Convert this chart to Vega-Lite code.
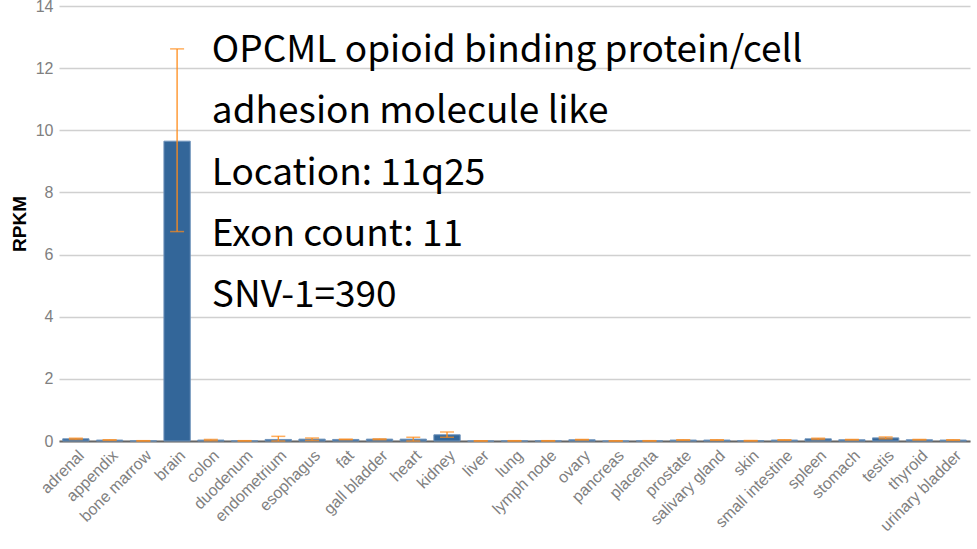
{
  "$schema": "https://vega.github.io/schema/vega-lite/v6.json",
  "width": 911,
  "height": 435,
  "autosize": {"type": "none"},
  "padding": {"left": 59, "top": 6, "right": 7, "bottom": 108},
  "background": "white",
  "config": {
    "view": {"stroke": null},
    "font": "Liberation Sans",
    "axisX": {
      "labelAngle": -45, "labelFontSize": 16, "labelColor": "#808080",
      "ticks": false, "domainColor": "#666666", "domainWidth": 2, "labelPadding": 6, "grid": false
    },
    "axisY": {
      "titleFontSize": 19, "titleFontWeight": "bold", "titleColor": "#000000", "titlePadding": 6,
      "labelFontSize": 16, "labelColor": "#808080", "labelPadding": 6,
      "ticks": false, "domain": false, "gridWidth": 1.5, "gridColor": "#d0d0d0"
    },
    "axisLeft": {
      "titleFontSize": 19, "titleFontWeight": "bold", "titleColor": "#000000", "titlePadding": 6,
      "labelFontSize": 16, "labelColor": "#808080", "labelPadding": 6,
      "ticks": false, "domain": false, "gridWidth": 1.5, "gridColor": "#d0d0d0"
    },
    "axisQuantitative": {
      "titleFontSize": 19, "labelFontSize": 16
    }
  },
  "datasets": {
    "expr": [
      {"tissue": "adrenal", "rpkm": 0.07, "lo": 0.05, "hi": 0.09},
      {"tissue": "appendix", "rpkm": 0.03, "lo": 0.02, "hi": 0.04},
      {"tissue": "bone marrow", "rpkm": 0.005, "lo": 0.0, "hi": 0.01},
      {"tissue": "brain", "rpkm": 9.65, "lo": 6.74, "hi": 12.62},
      {"tissue": "colon", "rpkm": 0.03, "lo": 0.01, "hi": 0.05},
      {"tissue": "duodenum", "rpkm": 0.005, "lo": 0.0, "hi": 0.01},
      {"tissue": "endometrium", "rpkm": 0.05, "lo": 0.0, "hi": 0.15},
      {"tissue": "esophagus", "rpkm": 0.06, "lo": 0.02, "hi": 0.1},
      {"tissue": "fat", "rpkm": 0.05, "lo": 0.04, "hi": 0.06},
      {"tissue": "gall bladder", "rpkm": 0.06, "lo": 0.04, "hi": 0.07},
      {"tissue": "heart", "rpkm": 0.06, "lo": 0.0, "hi": 0.12},
      {"tissue": "kidney", "rpkm": 0.2, "lo": 0.12, "hi": 0.29},
      {"tissue": "liver", "rpkm": 0.0, "lo": 0.0, "hi": 0.005},
      {"tissue": "lung", "rpkm": 0.005, "lo": 0.0, "hi": 0.01},
      {"tissue": "lymph node", "rpkm": 0.005, "lo": 0.0, "hi": 0.01},
      {"tissue": "ovary", "rpkm": 0.04, "lo": 0.03, "hi": 0.05},
      {"tissue": "pancreas", "rpkm": 0.0, "lo": 0.0, "hi": 0.005},
      {"tissue": "placenta", "rpkm": 0.005, "lo": 0.0, "hi": 0.01},
      {"tissue": "prostate", "rpkm": 0.03, "lo": 0.02, "hi": 0.04},
      {"tissue": "salivary gland", "rpkm": 0.03, "lo": 0.02, "hi": 0.04},
      {"tissue": "skin", "rpkm": 0.01, "lo": 0.0, "hi": 0.015},
      {"tissue": "small intestine", "rpkm": 0.03, "lo": 0.02, "hi": 0.04},
      {"tissue": "spleen", "rpkm": 0.07, "lo": 0.05, "hi": 0.09},
      {"tissue": "stomach", "rpkm": 0.04, "lo": 0.03, "hi": 0.05},
      {"tissue": "testis", "rpkm": 0.1, "lo": 0.07, "hi": 0.13},
      {"tissue": "thyroid", "rpkm": 0.04, "lo": 0.03, "hi": 0.05},
      {"tissue": "urinary bladder", "rpkm": 0.03, "lo": 0.02, "hi": 0.04}
    ],
    "notes": [
      {"tissue": "colon", "y": 12.2, "line": "OPCML opioid binding protein/cell"},
      {"tissue": "colon", "y": 10.22, "line": "adhesion molecule like"},
      {"tissue": "colon", "y": 8.24, "line": "Location: 11q25"},
      {"tissue": "colon", "y": 6.27, "line": "Exon count: 11"},
      {"tissue": "colon", "y": 4.3, "line": "SNV-1=390"}
    ]
  },
  "encoding": {
    "x": {
      "field": "tissue", "type": "nominal", "sort": null,
      "scale": {"paddingInner": 0.22, "paddingOuter": 0.11},
      "axis": {"title": null}
    }
  },
  "layer": [
    {
      "data": {"name": "expr"},
      "mark": {"type": "bar", "color": "#336699", "stroke": "#6f93bb", "strokeWidth": 1},
      "encoding": {
        "y": {
          "field": "rpkm", "type": "quantitative",
          "scale": {"domain": [0, 14], "nice": false},
          "axis": {
            "title": "RPKM",
            "titleFontSize": 19, "labelFontSize": 16,
            "values": [0, 2, 4, 6, 8, 10, 12, 14]
          }
        }
      }
    },
    {
      "data": {"name": "expr"},
      "mark": {"type": "rule", "color": "#ff8c1a", "strokeWidth": 1.3},
      "encoding": {
        "y": {"field": "lo", "type": "quantitative"},
        "y2": {"field": "hi"}
      }
    },
    {
      "data": {"name": "expr"},
      "mark": {"type": "tick", "color": "#ff8c1a", "size": 14, "thickness": 1.5, "orient": "horizontal"},
      "encoding": {
        "y": {"field": "lo", "type": "quantitative"}
      }
    },
    {
      "data": {"name": "expr"},
      "mark": {"type": "tick", "color": "#ff8c1a", "size": 14, "thickness": 1.5, "orient": "horizontal"},
      "encoding": {
        "y": {"field": "hi", "type": "quantitative"}
      }
    },
    {
      "data": {"name": "notes"},
      "mark": {"type": "text", "align": "left", "baseline": "alphabetic", "dx": 1, "font": "Noto Sans CJK JP", "fontSize": 37, "color": "#000000"},
      "encoding": {
        "y": {"field": "y", "type": "quantitative"},
        "text": {"field": "line"}
      }
    }
  ]
}
